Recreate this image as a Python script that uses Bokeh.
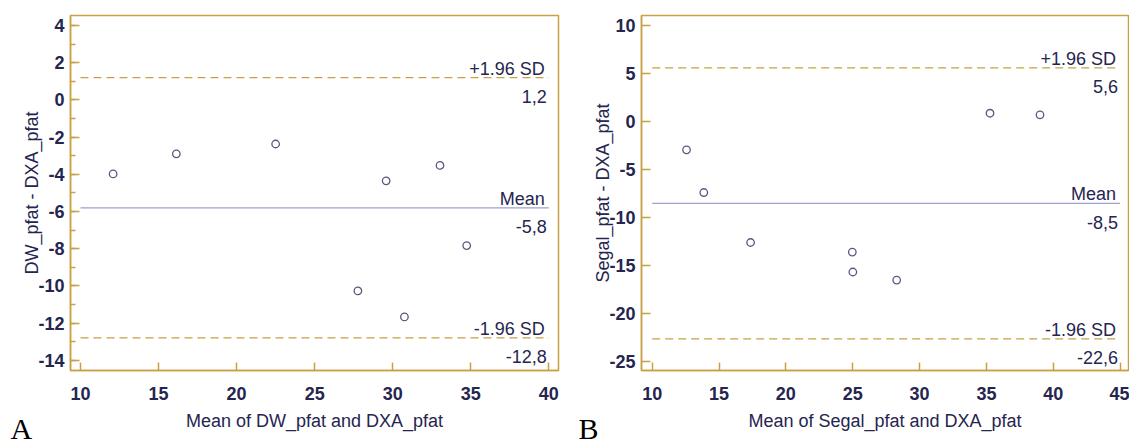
import math
from bokeh.plotting import figure
from bokeh.layouts import row
from bokeh.models import Label, Title, Range1d, SingleIntervalTicker, NumeralTickFormatter
from bokeh.embed import file_html
from bokeh.resources import INLINE

# ---- data ----
a_mean_x = [12.09, 16.14, 22.5, 27.77, 29.58, 30.75, 33.03, 34.74]
a_diff_y = [-3.98, -2.90, -2.37, -10.27, -4.35, -11.67, -3.52, -7.83]
a_upper, a_mean, a_lower = 1.2, -5.8, -12.8
a_value_texts = ["1,2", "-5,8", "-12,8"]

b_mean_x = [12.57, 13.86, 17.36, 24.97, 25.01, 28.29, 35.27, 39.01]
b_diff_y = [-2.94, -7.38, -12.58, -13.58, -15.65, -16.49, 0.87, 0.70]
b_upper, b_mean, b_lower = 5.6, -8.5, -22.6
b_value_texts = ["5,6", "-8,5", "-22,6"]

line_names = ["+1.96 SD", "Mean", "-1.96 SD"]

GOLD = "#C9A043"
NAVY = "#25254f"
MEAN_COL = "#a0a0d2"
MARK = "#58587f"
FONT = "Liberation Sans"


def panel(xs, ys, lines, value_texts, xlim, ylim, xtick, ytick, yminor,
          xlabel, ylabel, letter, width, bl, br, letter_x):
    p = figure(width=width, height=444, output_backend="svg", toolbar_location=None,
               x_range=Range1d(*xlim), y_range=Range1d(*ylim),
               min_border_left=bl, min_border_right=br, min_border_top=15,
               min_border_bottom=74, background_fill_color="white",
               border_fill_color="white")
    p.grid.visible = False
    p.outline_line_color = GOLD
    p.outline_line_width = 1.5
    p.xaxis.ticker = SingleIntervalTicker(interval=xtick, num_minor_ticks=0)
    p.yaxis.ticker = SingleIntervalTicker(interval=ytick, num_minor_ticks=yminor)
    for ax in (p.xaxis[0], p.yaxis[0]):
        ax.formatter = NumeralTickFormatter(format="0")
        ax.axis_line_color = GOLD
        ax.axis_line_width = 1.5
        ax.major_tick_line_color = GOLD
        ax.major_tick_line_width = 1.5
        ax.minor_tick_line_color = GOLD
        ax.minor_tick_line_width = 1.5
        ax.major_tick_in = 9
        ax.major_tick_out = 0
        ax.minor_tick_in = 5
        ax.minor_tick_out = 0
        ax.major_label_text_font = FONT
        ax.major_label_text_font_size = "18px"
        ax.major_label_text_font_style = "bold"
        ax.major_label_text_color = NAVY
        ax.axis_label_text_font = FONT
        ax.axis_label_text_font_size = "18px"
        ax.axis_label_text_font_style = "normal"
        ax.axis_label_text_color = NAVY
    p.xaxis.major_tick_in = 8
    p.xaxis.major_label_standoff = 16
    p.yaxis.major_label_standoff = 6
    p.xaxis.axis_label = xlabel
    p.xaxis.axis_label_standoff = 8
    p.yaxis.axis_label = ylabel
    p.yaxis.axis_label_standoff = -7

    x0, x1 = xtick * math.ceil(xlim[0] / xtick), xtick * math.floor(xlim[1] / xtick)
    up, mn, lo = lines
    p.line([x0, x1], [up, up], line_color=GOLD, line_width=1.3, line_dash="8 5")
    p.line([x0, x1], [mn, mn], line_color=MEAN_COL, line_width=1.2)
    p.line([x0, x1], [lo, lo], line_color=GOLD, line_width=1.3, line_dash="8 5")

    p.scatter(xs, ys, marker="circle", size=7.5, fill_color=None,
              line_color=MARK, line_width=1.3)

    for yv, name, val in zip(lines, line_names, value_texts):
        p.add_layout(Label(x=x1, y=yv, x_offset=-4, y_offset=9, text=name,
                           text_align="right", text_baseline="alphabetic",
                           text_font=FONT, text_font_size="18px", text_color=NAVY))
        p.add_layout(Label(x=x1, y=yv, x_offset=-2, y_offset=-19, text=val,
                           text_align="right", text_baseline="alphabetic",
                           text_font=FONT, text_font_size="18px", text_color=NAVY))

    p.add_layout(Title(text=letter, align="left", vertical_align="top",
                       offset=letter_x, standoff=-44,
                       text_font="Liberation Serif", text_font_size="30px",
                       text_font_style="normal", text_color="black"), "below")
    return p


pa = panel(a_mean_x, a_diff_y, (a_upper, a_mean, a_lower), a_value_texts,
           (9.36, 40.62), (-14.55, 4.54), 5, 2, 2,
           "Mean of DW_pfat and DXA_pfat", "DW_pfat - DXA_pfat", "A",
           570, 70, 12, -60)
pb = panel(b_mean_x, b_diff_y, (b_upper, b_mean, b_lower), b_value_texts,
           (9.2, 45.63), (-25.9, 11.04), 5, 5, 0,
           "Mean of Segal_pfat and DXA_pfat", "Segal_pfat - DXA_pfat", "B",
           559, 71, 1, -63)

layout = row(pa, pb)
open("out.html", "w").write(file_html(layout, INLINE))
